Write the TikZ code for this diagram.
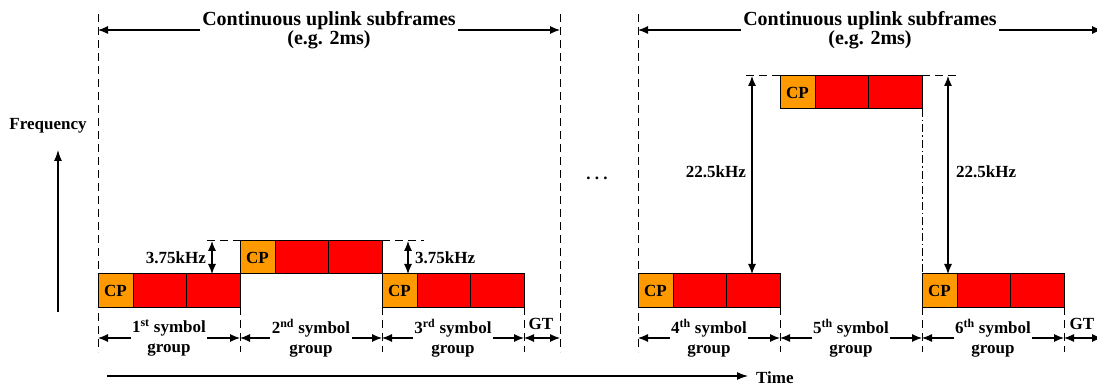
\documentclass[tikz,border=0pt]{standalone}
\usepackage{fontspec}
\setmainfont{Liberation Serif}
\usetikzlibrary{arrows.meta}
\definecolor{cporange}{RGB}{255,153,0}
\definecolor{symred}{RGB}{255,0,0}

% one symbol group: CP cell followed by two data cells
\newcommand\symgroup[3]{%
  \node[cpcell] (#1cp) at (#2,#3) {CP};
  \node[datacell] (#1a) at (#1cp.north east) {};
  \node[datacell] (#1b) at (#1a.north east) {};
}

\begin{document}
\begin{tikzpicture}[x=1pt,y=-1pt,
  every node/.style={font=\fontsize{17}{20}\selectfont\bfseries},
  cell/.style={draw=black,line width=1pt,minimum height=33pt,inner sep=0pt,
    anchor=north west,outer sep=0pt},
  cpcell/.style={cell,fill=cporange,minimum width=35pt},
  datacell/.style={cell,fill=symred,minimum width=53.5pt},
  guide/.style={line width=1pt,dash pattern=on 8pt off 5pt},
  guidedot/.style={line width=1pt,dash pattern=on 8pt off 3pt on 1.5pt off 3pt},
  dim/.style={line width=1.1pt,{Latex[length=10pt,width=8pt]}-{Latex[length=10pt,width=8pt]}},
  axis/.style={line width=1.1pt,-{Latex[length=11pt,width=8pt]}},
  grouplbl/.style={fill=white,align=center,inner xsep=1.5pt,inner ysep=0pt},
  titlelbl/.style={fill=white,align=center,inner xsep=2pt,inner ysep=0pt,
    font=\fontsize{20}{19}\selectfont\bfseries},
]
\path[use as bounding box] (0,0) rectangle (1097,387);
\clip (0,0) rectangle (1097,387);

% ---------- first subframe ----------
\symgroup{ga}{98}{274}
\symgroup{gb}{240}{241}
\symgroup{gc}{382}{274}

\coordinate (a0) at (98,338);
\coordinate (a1) at (240,338);
\coordinate (a2) at (382,338);
\coordinate (a3) at (524,338);
\coordinate (a4) at (560,338);

\draw[guide] (98,14) -- (98,352);
\draw[guide] (560,14) -- (560,352);
\draw[guide] (gab.south east) -- (240,352);
\draw[guide] (gccp.south west) -- (382,352);
\draw[guide] (gcb.south east) -- (524,352);

\coordinate (hl) at (207,241);
\coordinate (hr) at (424,241);
\draw[guide] (hl) -- (gbcp.north west);
\draw[guide] (gbb.north east) -- (hr);

\coordinate (sa1) at (212,241);
\coordinate (sa2) at (212,274);
\coordinate (sb1) at (408,241);
\coordinate (sb2) at (408,274);
\draw[dim] (sa1) -- (sa2);
\draw[dim] (sb1) -- (sb2);
\node[anchor=east,inner sep=0pt] (fa) at (206,258) {3.75kHz};
\node[anchor=west,inner sep=0pt] (fb) at (415,258) {3.75kHz};

\draw[dim] (a0) -- node[grouplbl] (la1) {1\textsuperscript{st} symbol\\group} (a1);
\draw[dim] (a1) -- node[grouplbl] (la2) {2\textsuperscript{nd} symbol\\group} (a2);
\draw[dim] (a2) -- node[grouplbl] (la3) {3\textsuperscript{rd} symbol\\group} (a3);
\draw[dim] (a3) -- (a4);
\node[inner sep=0pt] (gta) at (541,324) {GT};

\coordinate (ta0) at (98,30);
\coordinate (ta1) at (560,30);
\draw[dim] (ta0) -- node[titlelbl] (tla) {Continuous uplink subframes\\(e.g. 2ms)} (ta1);

% ---------- second subframe ----------
\symgroup{gd}{638}{274}
\symgroup{ge}{780}{76}
\symgroup{gf}{922}{274}

\coordinate (b0) at (638,338);
\coordinate (b1) at (780,338);
\coordinate (b2) at (922,338);
\coordinate (b3) at (1064,338);
\coordinate (b4) at (1102,338);

\draw[guide] (638,14) -- (638,352);
\draw[guide] (gdb.south east) -- (780,352);
\draw[guidedot] (geb.south east) -- (gfcp.north west);
\draw[guide] (gfcp.south west) -- (922,352);
\draw[guide] (gfb.south east) -- (1064,352);

\coordinate (kl) at (746,76);
\coordinate (kr) at (958,76);
\draw[guide] (kl) -- (gecp.north west);
\draw[guide] (geb.north east) -- (kr);

\coordinate (sc1) at (752,76);
\coordinate (sc2) at (752,274);
\coordinate (sd1) at (948,76);
\coordinate (sd2) at (948,274);
\draw[dim] (sc1) -- (sc2);
\draw[dim] (sd1) -- (sd2);
\node[anchor=east,inner sep=0pt] (fc) at (746,172) {22.5kHz};
\node[anchor=west,inner sep=0pt] (fd) at (956,172) {22.5kHz};

\draw[dim] (b0) -- node[grouplbl] (lb1) {4\textsuperscript{th} symbol\\group} (b1);
\draw[dim] (b1) -- node[grouplbl] (lb2) {5\textsuperscript{th} symbol\\group} (b2);
\draw[dim] (b2) -- node[grouplbl] (lb3) {6\textsuperscript{th} symbol\\group} (b3);
\draw[dim] (b3) -- (b4);
\node[inner sep=0pt] (gtb) at (1082,324) {GT};

\coordinate (tb0) at (638,30);
\coordinate (tb1) at (1102,30);
\draw[dim] (tb0) -- node[titlelbl] (tlb) {Continuous uplink subframes\\(e.g. 2ms)} (tb1);

% ---------- axes and ellipsis ----------
\node[anchor=base,inner sep=0pt] (dots) at (597,180) {.\ .\ .};

\node[inner sep=0pt] (freq) at (48,126) {Frequency};
\coordinate (f0) at (58,312);
\coordinate (f1) at (58,150);
\draw[axis] (f0) -- (f1);

\coordinate (t0) at (107,376);
\coordinate (t1) at (748,376);
\draw[axis] (t0) -- (t1);
\node[anchor=west,inner sep=0pt] (time) at (756,378) {Time};
\end{tikzpicture}
\end{document}
